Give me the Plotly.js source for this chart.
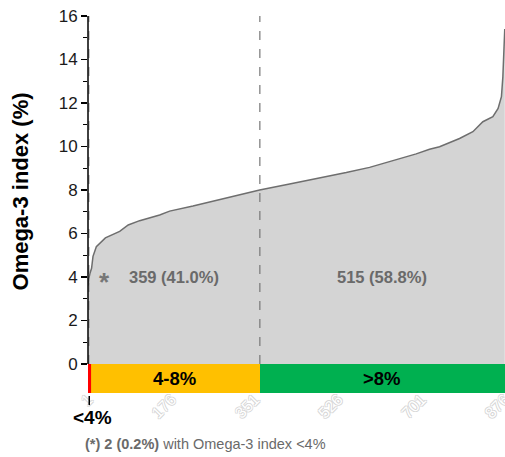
<!DOCTYPE html>
<html>
<head>
<meta charset="utf-8">
<script src="https://cdn.plot.ly/plotly-3.0.1.min.js"></script>
<style>html,body{margin:0;padding:0;background:#fff;}#chart{width:505px;height:457px;}</style>
</head>
<body>
<div id="chart"></div>
<script>
// Sorted Omega-3 index per participant (rank -> value)
const ranks  = [1, 2, 5, 8, 11, 18, 37, 57, 67, 85, 109, 151, 172, 221, 291, 361, 424, 494, 543, 592, 634, 690, 718, 739, 781, 809, 830, 851, 862, 869, 872, 874, 876];
const values = [3.6, 3.9, 4.2, 4.4, 4.95, 5.39, 5.8, 6.0, 6.1, 6.39, 6.59, 6.85, 7.03, 7.26, 7.62, 8.0, 8.28, 8.57, 8.8, 9.04, 9.3, 9.66, 9.87, 9.99, 10.37, 10.68, 11.14, 11.37, 11.75, 12.29, 13.2, 14.44, 15.4];

// Categories
const catLabels = ["<4%", "4-8%", ">8%"];
const catCounts = [2, 359, 515];
const catColors = ["#ff0000", "#ffc000", "#00b050"];

// Axis ticks
const yTicks = [0, 2, 4, 6, 8, 10, 12, 14, 16];
const yMinor = [1, 3, 5, 7, 9, 11, 13, 15];
const xTicks = [1, 176, 351, 526, 701, 876];

const total = catCounts.reduce((a, b) => a + b, 0);
const starts = [];
let acc = 0.5;
catCounts.forEach(c => { starts.push(acc); acc += c; });
const centers = catCounts.map((c, i) => starts[i] + c / 2);
const pct = catCounts.map(c => (100 * c / total).toFixed(1));

const FONT = "Arial, 'Liberation Sans', sans-serif";
const barDepth = -1.333;

const traces = [
  {
    type: "scatter", mode: "lines", x: ranks, y: values,
    fill: "tozeroy", fillcolor: "#d4d4d4",
    line: {color: "#6e6e6e", width: 1.5}, hoverinfo: "skip", showlegend: false
  },
  {
    type: "bar", x: centers.slice(1), y: [barDepth, barDepth], width: catCounts.slice(1),
    base: 0, marker: {color: catColors.slice(1), line: {width: 0}},
    hoverinfo: "skip", showlegend: false
  },
  {
    type: "bar", x: [centers[0] + 0.8], y: [barDepth], width: [catCounts[0]],
    base: 0, marker: {color: catColors[0], line: {color: catColors[0], width: 3.5}},
    hoverinfo: "skip", showlegend: false
  }
];

const bold = {family: FONT, size: 16.5, color: "#6a6a6a"};

const annotations = [
  {x: centers[1], y: 4, xref: "x", yref: "y", text: "<b>" + catCounts[1] + " (" + pct[1] + "%)</b>", showarrow: false, font: bold},
  {x: centers[2], y: 4, xref: "x", yref: "y", text: "<b>" + catCounts[2] + " (" + pct[2] + "%)</b>", showarrow: false, font: bold},
  {x: 0.0215, y: 4, xref: "paper", yref: "y", text: "<b>*</b>", showarrow: false, font: {family: FONT, size: 26, color: "#777"}, yshift: -5},
  {x: centers[1], y: barDepth / 2, xref: "x", yref: "y", text: "<b>" + catLabels[1] + "</b>", showarrow: false, font: {family: FONT, size: 18.5, color: "#000"}},
  {x: centers[2], y: barDepth / 2, xref: "x", yref: "y", text: "<b>" + catLabels[2] + "</b>", showarrow: false, font: {family: FONT, size: 18.5, color: "#000"}},
  {x: 0.011, y: -0.065, xref: "paper", yref: "paper", text: "<b>" + catLabels[0] + "</b>", showarrow: false, xanchor: "center", yanchor: "middle", font: {family: FONT, size: 19, color: "#000"}},
  {x: -0.012, y: -0.135, xref: "paper", yref: "paper", xanchor: "left", yanchor: "middle", showarrow: false,
   text: "<b>(*) " + catCounts[0] + " (" + pct[0] + "%)</b> with Omega-3 index " + catLabels[0], font: {family: FONT, size: 14.5, color: "#6a6a6a"}},
  {x: -0.1607, y: 0.5345, xref: "paper", yref: "paper", textangle: -90, showarrow: false, xanchor: "center", yanchor: "middle",
   text: "<b>Omega-3 index (%)</b>", font: {family: FONT, size: 22, color: "#000"}}
];

const shapes = [
  {type: "line", xref: "x", yref: "y", x0: starts[2], x1: starts[2], y0: 0, y1: 16, line: {color: "#777", width: 1.2, dash: "dash"}},
  {type: "line", xref: "x", yref: "y", x0: starts[1], x1: starts[1], y0: 0, y1: 16, line: {color: "#888", width: 1, dash: "dash"}},
  {type: "line", xref: "paper", yref: "y", x0: 0, x1: 0, y0: 0, y1: 16, line: {color: "#000", width: 1.5}},
  {type: "line", xref: "paper", yref: "paper", x0: 0.003, x1: 0.003, y0: -0.008, y1: -0.032, line: {color: "#000", width: 1.5}}
];

const layout = {
  width: 505, height: 457,
  margin: {l: 88, r: 0, t: 16, b: 64, pad: 0},
  paper_bgcolor: "#fff", plot_bgcolor: "#fff",
  font: {family: FONT},
  showlegend: false,
  bargap: 0, barmode: "overlay",
  xaxis: {
    range: [0.5, 876.5], tickmode: "array", tickvals: xTicks, ticks: "",
    showline: false, showgrid: false, zeroline: false, tickangle: -45,
    ticklabeloverflow: "allow", ticklabelstandoff: -7,
    tickfont: {family: FONT, size: 16, color: "#ffffff",
      shadow: "1px 0 0 #d6d6d6, -1px 0 0 #d6d6d6, 0 1px 0 #d6d6d6, 0 -1px 0 #d6d6d6"}
  },
  yaxis: {
    range: [barDepth, 16], tickmode: "array", tickvals: yTicks, ticks: "outside",
    ticklen: 6, tickwidth: 1.5, tickcolor: "#000", showline: false, showgrid: false,
    zeroline: true, zerolinecolor: "#000", zerolinewidth: 1,
    tickfont: {family: FONT, size: 17, color: "#1a1a1a"},
    minor: {tickmode: "array", tickvals: yMinor, ticks: "outside", ticklen: 4, tickwidth: 1.2, tickcolor: "#000", showgrid: false}
  },
  annotations: annotations,
  shapes: shapes
};

Plotly.newPlot("chart", traces, layout, {staticPlot: true, displayModeBar: false});
</script>
</body>
</html>
